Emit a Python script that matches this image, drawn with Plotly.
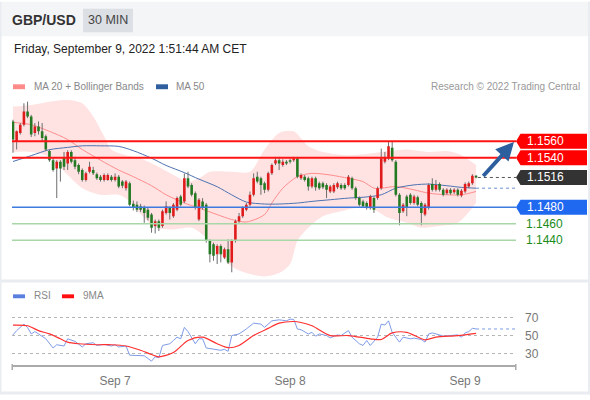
import plotly.graph_objects as go
import pandas as pd

# ---------------- data ----------------
start_time = "2022-09-06 10:00"
opens = [1.1584,1.1560,1.1570,1.1580,1.1596,1.1590,1.1570,1.1578,1.1572,1.1566,1.1548,1.1537,1.1527,1.1535,1.1541,1.1533,
         1.1547,1.1537,1.1531,1.1525,1.1513,1.1523,1.1525,1.1520,1.1517,1.1513,1.1513,1.1517,1.1513,1.1517,1.1511,1.1503,
         1.1509,1.1484,1.1483,1.1481,1.1479,1.1477,1.1471,1.1457,1.1463,1.1457,1.1473,1.1479,1.1469,1.1477,1.1493,1.1487,
         1.1515,1.1507,1.1497,1.1465,1.1487,1.1483,1.1439,1.1435,1.1423,1.1433,1.1419,1.1429,1.1413,1.1439,1.1463,1.1469,
         1.1477,1.1483,1.1495,1.1517,1.1515,1.1509,1.1501,1.1521,1.1533,1.1537,1.1531,1.1535,1.1537,1.1537,1.1539,1.1515,
         1.1517,1.1515,1.1505,1.1515,1.1509,1.1509,1.1507,1.1499,1.1499,1.1504,1.1507,1.1507,1.1507,1.1515,1.1503,1.1491,
         1.1487,1.1485,1.1479,1.1491,1.1491,1.1503,1.1535,1.1539,1.1552,1.1535,1.1495,1.1475,1.1493,1.1495,1.1485,1.1492,
         1.1485,1.1471,1.1479,1.1508,1.1501,1.1508,1.1501,1.1497,1.1501,1.1498,1.1501,1.1494,1.1499,1.1505,1.1509,1.1518]
highs = [1.1586,1.1573,1.1582,1.1606,1.1608,1.1592,1.1582,1.1584,1.1582,1.1568,1.1550,1.1540,1.1537,1.1537,1.1547,1.1549,
         1.1549,1.1541,1.1533,1.1527,1.1523,1.1535,1.1529,1.1522,1.1519,1.1521,1.1521,1.1519,1.1521,1.1519,1.1513,1.1513,
         1.1511,1.1488,1.1487,1.1484,1.1482,1.1479,1.1473,1.1465,1.1465,1.1477,1.1487,1.1481,1.1485,1.1493,1.1495,1.1521,
         1.1523,1.1509,1.1499,1.1491,1.1491,1.1485,1.1441,1.1437,1.1435,1.1435,1.1431,1.1441,1.1441,1.1465,1.1473,1.1481,
         1.1485,1.1499,1.1521,1.1523,1.1517,1.1511,1.1523,1.1533,1.1541,1.1541,1.1538,1.1537,1.1539,1.1541,1.1541,1.1521,
         1.1519,1.1517,1.1517,1.1517,1.1511,1.1511,1.1509,1.1507,1.1509,1.1511,1.1509,1.1509,1.1519,1.1517,1.1505,1.1493,
         1.1489,1.1487,1.1495,1.1493,1.1505,1.1551,1.1547,1.1560,1.1560,1.1537,1.1497,1.1485,1.1495,1.1497,1.1495,1.1494,
         1.1487,1.1485,1.1509,1.1515,1.1513,1.1510,1.1503,1.1503,1.1503,1.1503,1.1503,1.1502,1.1510,1.1511,1.1520,1.1519]
lows = [1.1546,1.1550,1.1568,1.1578,1.1588,1.1565,1.1566,1.1568,1.1560,1.1548,1.1535,1.1523,1.1491,1.1511,1.1525,1.1525,
        1.1533,1.1526,1.1520,1.1511,1.1511,1.1521,1.1519,1.1513,1.1511,1.1511,1.1512,1.1511,1.1511,1.1503,1.1503,1.1500,
        1.1481,1.1476,1.1474,1.1474,1.1461,1.1464,1.1449,1.1448,1.1451,1.1455,1.1471,1.1465,1.1467,1.1475,1.1481,1.1485,
        1.1503,1.1493,1.1477,1.1463,1.1477,1.1437,1.1413,1.1415,1.1411,1.1413,1.1417,1.1411,1.1401,1.1437,1.1461,1.1467,
        1.1475,1.1481,1.1493,1.1509,1.1495,1.1497,1.1499,1.1519,1.1531,1.1525,1.1529,1.1531,1.1533,1.1535,1.1515,1.1513,
        1.1511,1.1500,1.1503,1.1500,1.1501,1.1502,1.1491,1.1497,1.1497,1.1502,1.1501,1.1501,1.1505,1.1501,1.1489,1.1481,
        1.1479,1.1477,1.1477,1.1473,1.1489,1.1501,1.1533,1.1537,1.1535,1.1493,1.1458,1.1473,1.1469,1.1483,1.1483,1.1481,
        1.1458,1.1469,1.1477,1.1499,1.1499,1.1499,1.1493,1.1495,1.1495,1.1496,1.1493,1.1492,1.1497,1.1503,1.1507,1.1515]
closes = [1.1562,1.1572,1.1580,1.1596,1.1590,1.1568,1.1578,1.1572,1.1564,1.1550,1.1537,1.1525,1.1535,1.1527,1.1529,1.1547,
          1.1535,1.1529,1.1523,1.1513,1.1521,1.1529,1.1521,1.1515,1.1513,1.1519,1.1519,1.1513,1.1517,1.1505,1.1506,1.1511,
          1.1483,1.1479,1.1477,1.1477,1.1473,1.1467,1.1455,1.1463,1.1455,1.1475,1.1481,1.1473,1.1483,1.1491,1.1483,1.1515,
          1.1505,1.1495,1.1479,1.1489,1.1479,1.1439,1.1423,1.1421,1.1433,1.1423,1.1429,1.1413,1.1439,1.1463,1.1469,1.1479,
          1.1483,1.1495,1.1515,1.1511,1.1507,1.1501,1.1521,1.1531,1.1537,1.1533,1.1535,1.1533,1.1535,1.1539,1.1517,1.1519,
          1.1513,1.1505,1.1515,1.1504,1.1503,1.1504,1.1501,1.1505,1.1507,1.1509,1.1503,1.1503,1.1517,1.1503,1.1491,1.1483,
          1.1481,1.1479,1.1493,1.1477,1.1503,1.1539,1.1541,1.1554,1.1537,1.1495,1.1473,1.1483,1.1479,1.1485,1.1493,1.1483,
          1.1473,1.1483,1.1507,1.1501,1.1507,1.1501,1.1495,1.1501,1.1497,1.1501,1.1495,1.1500,1.1508,1.1509,1.1518,1.1516]

ma50_idx = [0,5,10,15,19,24,29,33,38,42,47,51,56,60,64,69,73,78,82,87,92,96,101,105,110,114,119,123,127]
ma50_val = [1.15354,1.15425,1.15497,1.15525,1.15544,1.15544,1.15537,1.15485,1.15394,1.15306,1.15219,1.15140,1.15048,
            1.14949,1.14862,1.14838,1.14838,1.14850,1.14870,1.14890,1.14910,1.14920,1.14950,1.15030,1.15070,1.15080,
            1.15060,1.15040,1.15030]
ma20_idx = [0,2,5,10,15,19,24,29,33,38,42,47,51,56,60,64,69,71,74,78,82,87,92,96,99,101,105,110,114,119,123,127]
ma20_val = [1.1583,1.1582,1.1580,1.1572,1.1562,1.1550,1.1537,1.1525,1.1517,1.1506,1.1495,1.1485,1.1479,1.1471,1.1465,
            1.1462,1.1471,1.1485,1.1503,1.1517,1.1521,1.1519,1.1515,1.1511,1.1503,1.1503,1.1505,1.1501,1.1497,1.1495,
            1.1495,1.1499]
bb_up_idx = [0,5,10,15,19,22,25,27,31,35,39,44,48,51,54,60,65,69,73,77,81,85,92,98,103,108,114,119,123,127]
bb_up_val = [1.1602,1.1604,1.1608,1.1610,1.1606,1.1590,1.1566,1.1550,1.1543,1.1539,1.1531,1.1519,1.1511,1.1515,1.1523,
             1.1523,1.1523,1.1550,1.1570,1.1572,1.1554,1.1547,1.1543,1.1545,1.1548,1.1550,1.1547,1.1548,1.1543,1.1531]
bb_lo_idx = [0,5,10,15,19,24,29,32,36,39,44,49,53,57,60,64,69,73,76,78,81,85,90,94,99,103,108,112,117,122,127]
bb_lo_val = [1.1547,1.1547,1.1541,1.1519,1.1503,1.1495,1.1495,1.1487,1.1467,1.1455,1.1453,1.1455,1.1443,1.1423,1.1408,
             1.1400,1.1396,1.1400,1.1411,1.1439,1.1455,1.1469,1.1475,1.1479,1.1477,1.1467,1.1461,1.1455,1.1457,1.1461,
             1.1485]

rsi_idx = [0,1,3,4,5,6,7,9,11,12,14,15,17,19,20,22,23,25,27,28,29,31,32,34,36,37,38,39,40,41,43,44,45,46,47,48,50,51,
           52,53,55,57,58,59,60,62,64,66,68,69,71,73,75,76,77,78,79,81,82,83,84,86,87,89,90,92,93,95,96,97,98,100,101,
           102,103,104,106,107,109,110,112,113,114,115,117,118,120,122,123,124,125,126,127]
rsi_val = [50.7,55.5,62.7,59.0,51.8,54.4,51.8,46.4,36.2,39.8,38.4,46.4,43.5,37.3,40.9,42.0,39.0,40.2,38.4,39.8,37.3,38.4,
           28.2,28.2,27.5,24.5,21.6,26.4,25.3,39.0,40.9,44.5,48.2,46.4,59.1,54.4,40.9,46.4,46.4,36.2,34.7,33.6,34.7,32.5,
           50.0,51.8,57.3,63.8,62.7,59.1,66.4,67.5,66.4,68.2,68.0,57.3,56.5,51.8,53.6,49.3,51.8,50.0,47.5,50.7,50.0,55.5,
           48.2,40.9,39.0,44.5,39.0,48.2,62.7,61.6,66.4,53.6,42.7,48.2,46.4,47.1,45.6,42.7,51.8,52.9,50.7,49.3,50.0,50.7,
           48.2,52.9,54.4,58.0,57.3]
rsi_ma_idx = [0,4,7,10,13,15,18,23,27,31,35,38,40,44,48,52,56,59,62,66,70,73,77,79,82,87,92,98,101,104,108,113,116,122,127]
rsi_ma_val = [61.6,60.9,55.5,51.8,46.4,42.7,40.9,39.8,39.8,38.4,33.6,28.9,26.4,31.1,44.5,48.2,40.9,36.5,39.0,50.0,58.0,
              63.8,65.6,64.5,60.9,50.0,50.0,46.4,45.6,52.9,53.6,45.3,48.2,50.0,52.5]

levels = [1.1560, 1.1540, 1.1516, 1.1480, 1.1460, 1.1440]
level_labels = ["1.1560", "1.1540", "1.1516", "1.1480", "1.1460", "1.1440"]
rsi_ticks = [30, 50, 70]
rsi_tick_labels = ["30", "50", "70"]
day_ticks = ["2022-09-07 00:00", "2022-09-08 00:00", "2022-09-09 00:00"]
day_tick_labels = ["Sep 7", "Sep 8", "Sep 9"]

# ---------------- layout geometry ----------------
W, H = 590, 400
ML, MR, MT, MB = 12, 74, 100, 30
PW, PH = W - ML - MR, H - MT - MB
def px(x): return (x - ML) / PW
def py(y): return (H - MB - y) / PH

FONT = "Arial, Liberation Sans, sans-serif"
t0 = pd.Timestamp(start_time)
step = pd.Timedelta(minutes=30)
def T(i): return t0 + step * i
times = [T(i) for i in range(len(closes))]
x_lo, x_hi = T(-0.27), T(137.96)

fig = go.Figure()

# Bollinger band
fig.add_trace(go.Scatter(x=[T(i) for i in bb_up_idx], y=bb_up_val, mode="lines",
                         line=dict(width=0, shape="spline", smoothing=0.8), hoverinfo="skip"))
fig.add_trace(go.Scatter(x=[T(i) for i in bb_lo_idx], y=bb_lo_val, mode="lines", fill="tonexty",
                         fillcolor="#ffe3e3", line=dict(width=0, shape="spline", smoothing=0.8), hoverinfo="skip"))
# MAs
fig.add_trace(go.Scatter(x=[T(i) for i in ma20_idx], y=ma20_val, mode="lines",
                         line=dict(color="#ff8c8c", width=1, shape="spline", smoothing=0.8)))
fig.add_trace(go.Scatter(x=[T(i) for i in ma50_idx], y=ma50_val, mode="lines",
                         line=dict(color="#4c72b0", width=1, shape="spline", smoothing=0.8)))
fig.add_trace(go.Scatter(x=[T(ma50_idx[-1]), x_hi], y=[ma50_val[-1]] * 2, mode="lines",
                         line=dict(color="#6b8fd0", width=1, dash="dot")))
fig.add_trace(go.Scatter(x=[T(len(closes) - 0.5), x_hi], y=[closes[-1]] * 2, mode="lines",
                         line=dict(color="#555555", width=1, dash="dot")))

# candles: wicks then bodies
wx, wy = [], []
for t, h, l in zip(times, highs, lows):
    wx += [t, t, None]; wy += [h, l, None]
fig.add_trace(go.Scatter(x=wx, y=wy, mode="lines", line=dict(color="#6e6e6e", width=1)))
for up, col in ((True, "#e01b1b"), (False, "#237a23")):
    bx, by = [], []
    for t, o, c in zip(times, opens, closes):
        if (c >= o) == up:
            bx += [t, t, None]; by += [o, c, None]
    fig.add_trace(go.Scatter(x=bx, y=by, mode="lines", line=dict(color=col, width=2.6)))

# RSI
fig.add_trace(go.Scatter(x=[T(i) for i in rsi_idx], y=rsi_val, mode="lines", xaxis="x2", yaxis="y2",
                         line=dict(color="#7e9be6", width=1)))
fig.add_trace(go.Scatter(x=[T(rsi_idx[-1]), x_hi], y=[rsi_val[-1]] * 2, mode="lines", xaxis="x2", yaxis="y2",
                         line=dict(color="#7e9be6", width=1, dash="dot")))
fig.add_trace(go.Scatter(x=[T(i) for i in rsi_ma_idx], y=rsi_ma_val, mode="lines", xaxis="x2", yaxis="y2",
                         line=dict(color="#ff3030", width=1.2, shape="spline", smoothing=0.8)))

shapes, annos = [], []
def rect(x0, y0, x1, y1, color, layer="below"):
    shapes.append(dict(type="rect", xref="paper", yref="paper", x0=px(x0), x1=px(x1), y0=py(y0), y1=py(y1),
                       fillcolor=color, line=dict(width=0), layer=layer))
def text(x, y, s, size=11, color="#888", anchor="left"):
    annos.append(dict(xref="paper", yref="paper", x=px(x), y=py(y), text=s, showarrow=False,
                      xanchor=anchor, yanchor="middle", font=dict(family=FONT, size=size, color=color)))

# frame / header
rect(0, 0, 590, 35, "#f4f5f7")
rect(83, 7, 133, 31, "#dcdfe4")
rect(0, 283, 590, 286, "#e9ecf0")
rect(0, 0, 1.5, 400, "#e9ecf0")
rect(588, 0, 590, 400, "#e9ecf0")
rect(0, 397, 590, 400, "#e9ecf0")
text(10, 19, "<b>GBP/USD</b>", 14, "#333")
text(108, 19, "30 MIN", 12.5, "#444", "center")
text(12, 48, "Friday, September 9, 2022 1:51:44 AM CET", 12, "#222")
rect(13, 84, 25, 89, "#ff8a8a", "above")
text(32, 86.5, "MA 20 + Bollinger Bands", 10, "#888")
rect(156, 84, 168, 89, "#2f5f9f", "above")
text(174, 86.5, "MA 50", 10, "#888")
text(582, 86.5, "Research © 2022 Trading Central", 10, "#999", "right")
rect(13, 298, 25, 302, "#5b7fdf", "above")
text(32, 299, "RSI", 10, "#888")
rect(62, 298, 74, 302, "#ff1010", "above")
text(81, 299, "9MA", 10, "#888")
# axis end ticks
rect(11.5, 369, 13, 375, "#aaaaaa", "above")
rect(515, 369, 516.5, 375, "#aaaaaa", "above")

# level lines and labels
line_style = [("#ff1414", 2), ("#ff1414", 2), None, ("#3d7be0", 1.5), ("#a8d8a8", 1.5), ("#a8d8a8", 1.5)]
box_color = ["#ff0000", "#ff0000", "#333333", "#1f68f0", None, None]
for lv, lab, ls, bc in zip(levels, level_labels, line_style, box_color):
    if ls:
        shapes.append(dict(type="line", xref="paper", yref="y", x0=0, x1=1, y0=lv, y1=lv,
                           line=dict(color=ls[0], width=ls[1]), layer="above"))
    if bc:
        shapes.append(dict(type="path", xref="paper", yref="y", xsizemode="pixel", ysizemode="pixel",
                           xanchor=1, yanchor=lv, path="M0,0 L4.5,7.5 L71,7.5 L71,-7.5 L4.5,-7.5 Z",
                           fillcolor=bc, line=dict(width=0), layer="above"))
        annos.append(dict(xref="paper", yref="y", x=1, y=lv, xshift=9, text=lab, showarrow=False,
                          xanchor="left", yanchor="middle", font=dict(family=FONT, size=12, color="white")))
    else:
        annos.append(dict(xref="paper", yref="y", x=1, y=lv, xshift=8, text=lab, showarrow=False,
                          xanchor="left", yanchor="middle", font=dict(family=FONT, size=12, color="#1a8c1a")))

# forecast arrow: from last close toward first resistance
annos.append(dict(xref="x", yref="y", axref="x", ayref="y", x=T(len(closes) + 9.4), y=levels[0] - 0.0001,
                  ax=T(len(closes) + 0.6), ay=closes[-1], text="", showarrow=True, arrowhead=2,
                  arrowsize=0.9, arrowwidth=4, arrowcolor="#2d5f9f", standoff=0))

fig.update_layout(
    width=W, height=H, autosize=False, margin=dict(l=ML, r=MR, t=MT, b=MB),
    paper_bgcolor="white", plot_bgcolor="rgba(0,0,0,0)", showlegend=False, hovermode=False,
    font=dict(family=FONT),
    xaxis=dict(range=[x_lo, x_hi], visible=False, anchor="y", showgrid=False),
    yaxis=dict(domain=[py(283), 1], range=[1.13921, 1.1610], visible=False, showgrid=False, zeroline=False),
    xaxis2=dict(range=[x_lo, x_hi], anchor="y2", matches="x", showgrid=False, showline=True,
                linecolor="#aaaaaa", linewidth=2, tickvals=day_ticks, ticktext=day_tick_labels, ticks="",
                tickfont=dict(size=12, color="#777"), ticklabelstandoff=4),
    yaxis2=dict(domain=[0, py(305)], range=[17.27, 88.18], side="right", anchor="x2",
                tickvals=rsi_ticks, ticktext=rsi_tick_labels, showgrid=True, griddash="dot",
                gridcolor="#b5b5b5", gridwidth=1, zeroline=False, ticks="", ticklabelstandoff=8,
                tickfont=dict(size=12, color="#777")),
    shapes=shapes, annotations=annos,
)
fig.write_html("out.html", config={"displayModeBar": False, "responsive": False},
               post_script="document.body.style.margin='0';document.body.style.overflow='hidden';")
